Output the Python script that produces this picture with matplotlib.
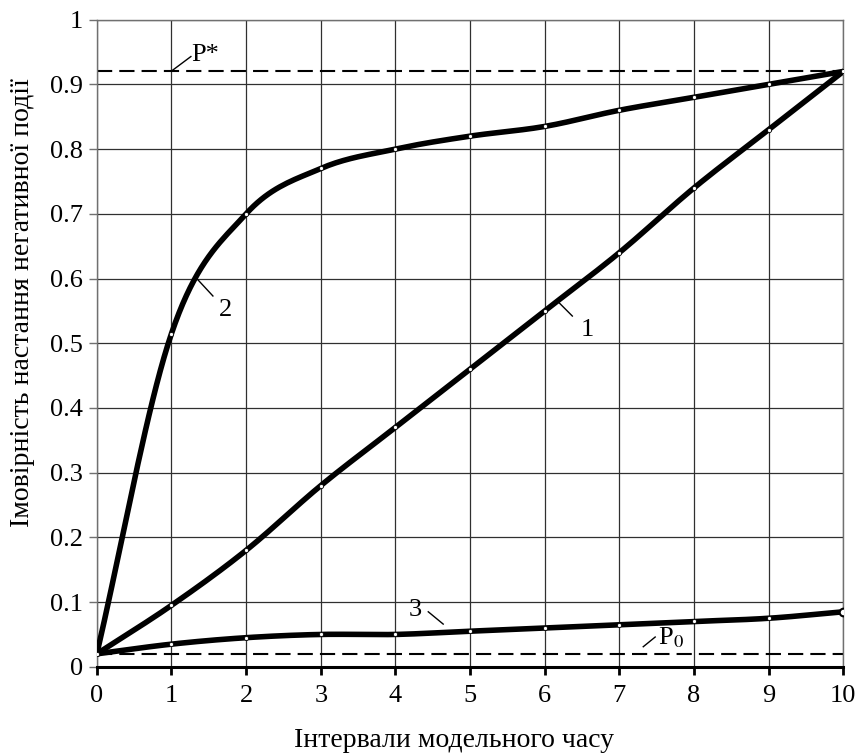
import numpy as np
import matplotlib
matplotlib.use('Agg')
import matplotlib.pyplot as plt

plt.rcParams['font.family'] = ['Liberation Serif', 'DejaVu Serif']
plt.rcParams['mathtext.fontset'] = 'stix'

intervals = [0, 1, 2, 3, 4, 5, 6, 7, 8, 9, 10]
curve_1 = [0.02, 0.095, 0.18, 0.28, 0.37, 0.46, 0.55, 0.64, 0.74, 0.83, 0.92]
curve_2 = [0.02, 0.515, 0.70, 0.77, 0.80, 0.82, 0.835, 0.86, 0.88, 0.90, 0.92]
curve_3 = [0.02, 0.035, 0.045, 0.05, 0.05, 0.055, 0.06, 0.065, 0.07, 0.075, 0.085]
p_star = 0.92
p_zero = 0.02

x_ticks = [0, 1, 2, 3, 4, 5, 6, 7, 8, 9, 10]
y_ticks = [0, 0.1, 0.2, 0.3, 0.4, 0.5, 0.6, 0.7, 0.8, 0.9, 1]
y_labels = ['0', '0.1', '0.2', '0.3', '0.4', '0.5', '0.6', '0.7', '0.8', '0.9', '1']


def smooth(xs, ys, n=20):
    # catmull-rom through the points, like the excel smoothed line
    xs = np.asarray(xs, float)
    ys = np.asarray(ys, float)
    px = np.concatenate([[2 * xs[0] - xs[1]], xs, [2 * xs[-1] - xs[-2]]])
    py = np.concatenate([[2 * ys[0] - ys[1]], ys, [2 * ys[-1] - ys[-2]]])
    out_x, out_y = [], []
    t = np.linspace(0, 1, n, endpoint=False)
    for i in range(1, len(px) - 2):
        for p, out in ((px, out_x), (py, out_y)):
            p0, p1, p2, p3 = p[i - 1], p[i], p[i + 1], p[i + 2]
            out.extend(0.5 * (2 * p1 + (-p0 + p2) * t
                              + (2 * p0 - 5 * p1 + 4 * p2 - p3) * t ** 2
                              + (-p0 + 3 * p1 - 3 * p2 + p3) * t ** 3))
    out_x.append(xs[-1])
    out_y.append(ys[-1])
    return out_x, out_y


fig = plt.figure(figsize=(8.57, 7.56), dpi=100)
ax = fig.add_axes([0.113, 0.118, 0.871, 0.856])

ax.set_xlim(0, 10)
ax.set_ylim(0, 1)
ax.set_xticks(x_ticks)
ax.set_yticks(y_ticks)
ax.set_yticklabels(y_labels)
ax.grid(True, color='#303030', linewidth=0.9)
ax.set_axisbelow(True)

for side in ['top', 'right', 'left']:
    ax.spines[side].set_color('#707070')
    ax.spines[side].set_linewidth(1.0)
ax.spines['bottom'].set_linewidth(2.2)
ax.spines['bottom'].set_color('black')
ax.tick_params(axis='y', direction='out', length=6, width=1, color='#707070',
               labelsize=19, pad=4)
ax.tick_params(axis='x', direction='out', length=6, width=2, color='black',
               labelsize=19, pad=7)

ax.axhline(p_star, color='black', linestyle=(0, (7.3, 3.4)), linewidth=1.5)
ax.axhline(p_zero, color='black', linestyle=(0, (7.3, 3.4)), linewidth=1.5)

for ys in (curve_1, curve_2, curve_3):
    sx, sy = smooth(intervals, ys)
    ax.plot(sx, sy, color='black', linewidth=4.0, solid_capstyle='round', zorder=3)
    ax.plot(intervals, ys, linestyle='none', marker='o', markersize=3,
            markerfacecolor='white', markeredgecolor='black', markeredgewidth=0.6, zorder=4)
ax.plot([intervals[-1]], [curve_3[-1]], marker='o', markersize=5.5,
        markerfacecolor='white', markeredgecolor='black', markeredgewidth=1.5, zorder=5)

# callouts
ax.plot([1.005, 1.26], [0.921, 0.943], color='black', linewidth=1)
ax.text(1.27, 0.945, 'P*', fontsize=19, va='center', ha='left')
ax.plot([7.32, 7.48], [0.031, 0.046], color='black', linewidth=1)
ax.text(7.52, 0.045, 'P$_{\\mathrm{0}}$', fontsize=19, va='center', ha='left')
ax.plot([1.354, 1.555], [0.598, 0.573], color='black', linewidth=1)
ax.text(1.72, 0.552, '2', fontsize=19, va='center', ha='center')
ax.plot([6.18, 6.37], [0.564, 0.542], color='black', linewidth=1)
ax.text(6.57, 0.521, '1', fontsize=19, va='center', ha='center')
ax.plot([4.44, 4.64], [0.085, 0.066], color='black', linewidth=1)
ax.text(4.27, 0.088, '3', fontsize=19, va='center', ha='center')

fig.text(0.53, 0.004, 'Інтервали модельного часу', fontsize=20, ha='center', va='bottom')
fig.text(0.026, 0.60, 'Імовірність настання негативної події', fontsize=20,
         rotation=90, ha='center', va='center')

plt.savefig('out.png', dpi=100)
